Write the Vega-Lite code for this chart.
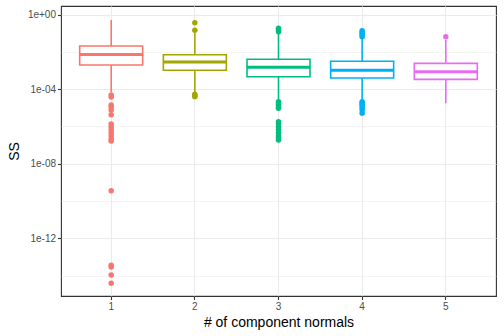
{
  "$schema": "https://vega.github.io/schema/vega-lite/v6.json",
  "width": 435,
  "height": 290,
  "autosize": {"type": "none"},
  "padding": {"left": 61, "top": 6, "right": 8, "bottom": 40},
  "background": "white",
  "config": {
    "font": "Liberation Sans",
    "view": {"stroke": "#333333", "strokeWidth": 1.1}
  },
  "datasets": {
    "boxes": [
      {"k": "1", "lo": 7.08e-5, "q1": 0.0020, "med": 0.00741, "q3": 0.0209, "hi": 0.525},
      {"k": "2", "lo": 7.08e-5, "q1": 0.00105, "med": 0.00288, "q3": 0.00708, "hi": 0.105},
      {"k": "3", "lo": 2.63e-5, "q1": 4.68e-4, "med": 0.00151, "q3": 0.00407, "hi": 0.1},
      {"k": "4", "lo": 2.63e-5, "q1": 3.98e-4, "med": 0.00105, "q3": 0.00316, "hi": 0.0562},
      {"k": "5", "lo": 1.74e-5, "q1": 3.39e-4, "med": 8.71e-4, "q3": 0.00245, "hi": 0.0437}
    ],
    "outliers": [
      {"k": "1", "v": 4.9e-5}, {"k": "1", "v": 3.8e-5}, {"k": "1", "v": 1.41e-5}, {"k": "1", "v": 1.12e-5},
      {"k": "1", "v": 7.6e-6}, {"k": "1", "v": 4.2e-6}, {"k": "1", "v": 1.35e-6}, {"k": "1", "v": 9.3e-7},
      {"k": "1", "v": 6.5e-7}, {"k": "1", "v": 4.5e-7}, {"k": "1", "v": 3.1e-7}, {"k": "1", "v": 2.1e-7},
      {"k": "1", "v": 1.66e-7}, {"k": "1", "v": 3.5e-10}, {"k": "1", "v": 3.6e-14}, {"k": "1", "v": 2.9e-14},
      {"k": "1", "v": 1.07e-14}, {"k": "1", "v": 3.8e-15},
      {"k": "2", "v": 0.37}, {"k": "2", "v": 0.145}, {"k": "2", "v": 5.4e-5}, {"k": "2", "v": 4.6e-5}, {"k": "2", "v": 4.0e-5},
      {"k": "3", "v": 0.186}, {"k": "3", "v": 0.151}, {"k": "3", "v": 0.123}, {"k": "3", "v": 2.14e-5},
      {"k": "3", "v": 1.82e-5}, {"k": "3", "v": 1.41e-5}, {"k": "3", "v": 1.12e-5}, {"k": "3", "v": 9.5e-6},
      {"k": "3", "v": 1.82e-6}, {"k": "3", "v": 1.35e-6}, {"k": "3", "v": 9.3e-7}, {"k": "3", "v": 6.5e-7},
      {"k": "3", "v": 4.5e-7}, {"k": "3", "v": 3.1e-7}, {"k": "3", "v": 2.4e-7}, {"k": "3", "v": 1.9e-7},
      {"k": "4", "v": 0.138}, {"k": "4", "v": 0.117}, {"k": "4", "v": 0.098}, {"k": "4", "v": 0.081},
      {"k": "4", "v": 0.066}, {"k": "4", "v": 2.14e-5}, {"k": "4", "v": 1.82e-5}, {"k": "4", "v": 1.51e-5},
      {"k": "4", "v": 1.26e-5}, {"k": "4", "v": 9.8e-6}, {"k": "4", "v": 7.6e-6}, {"k": "4", "v": 5.2e-6},
      {"k": "5", "v": 0.066}
    ]
  },
  "layer": [
    {
      "data": {"name": "boxes"},
      "mark": {"type": "rule", "strokeWidth": 1.6},
      "encoding": {
        "x": {
          "field": "k", "type": "ordinal",
          "scale": {"type": "band", "domain": ["1", "2", "3", "4", "5"], "paddingInner": 0, "paddingOuter": 0.1},
          "axis": {
            "title": "# of component normals", "grid": true, "bandPosition": 0.5, "domain": false,
            "ticks": true, "tickSize": 3.5, "tickColor": "#333333", "tickWidth": 1.1,
            "labelAngle": 0, "labelFontSize": 10, "labelColor": "#4D4D4D", "labelPadding": 2,
            "titleFontSize": 14, "titleFontWeight": "normal", "titleColor": "black", "titlePadding": 4,
            "gridColor": "#EBEBEB", "gridWidth": 1.1
          }
        },
        "y": {
          "field": "lo", "type": "quantitative",
          "scale": {"type": "log", "domain": [7.94e-16, 2.93], "nice": false},
          "axis": {
            "title": "SS",
            "values": [1, 1e-2, 1e-4, 1e-6, 1e-8, 1e-10, 1e-12, 1e-14],
            "labelExpr": "round(log(datum.value)/LN10) % 4 != 0 ? '' : (datum.value >= 1 ? '1e+00' : '1e-' + (round(-log(datum.value)/LN10) < 10 ? '0' : '') + round(-log(datum.value)/LN10))",
            "labelOverlap": false, "labelFlush": false,
            "grid": true, "gridColor": "#EBEBEB",
            "gridWidth": {"condition": {"test": "round(log(datum.value)/LN10) % 4 == 0", "value": 1.1}, "value": 0.55},
            "tickColor": {"condition": {"test": "round(log(datum.value)/LN10) % 4 == 0", "value": "#333333"}, "value": "rgba(0,0,0,0)"},
            "tickWidth": 1.1, "tickSize": 3.5, "domain": false,
            "labelFontSize": 10, "labelColor": "#4D4D4D", "labelPadding": 2,
            "titleFontSize": 14, "titleFontWeight": "normal", "titleColor": "black", "titlePadding": 6
          }
        },
        "y2": {"field": "hi"},
        "color": {
          "field": "k", "type": "nominal",
          "scale": {"domain": ["1", "2", "3", "4", "5"], "range": ["#F8766D", "#A3A500", "#00BF7D", "#00B0F6", "#E76BF3"]},
          "legend": null
        }
      }
    },
    {
      "data": {"name": "boxes"},
      "mark": {"type": "bar", "size": 63, "fill": "white", "strokeWidth": 1.6},
      "encoding": {
        "x": {"field": "k", "type": "ordinal"},
        "y": {"field": "q1", "type": "quantitative"},
        "y2": {"field": "q3"},
        "stroke": {
          "field": "k", "type": "nominal",
          "scale": {"domain": ["1", "2", "3", "4", "5"], "range": ["#F8766D", "#A3A500", "#00BF7D", "#00B0F6", "#E76BF3"]},
          "legend": null
        }
      }
    },
    {
      "data": {"name": "boxes"},
      "mark": {"type": "tick", "size": 63, "thickness": 3, "opacity": 1},
      "encoding": {
        "x": {"field": "k", "type": "ordinal"},
        "y": {"field": "med", "type": "quantitative"},
        "color": {"field": "k", "type": "nominal", "legend": null}
      }
    },
    {
      "data": {"name": "outliers"},
      "mark": {"type": "point", "filled": true, "size": 30, "opacity": 1},
      "encoding": {
        "x": {"field": "k", "type": "ordinal"},
        "y": {"field": "v", "type": "quantitative"},
        "color": {"field": "k", "type": "nominal", "legend": null}
      }
    }
  ]
}
